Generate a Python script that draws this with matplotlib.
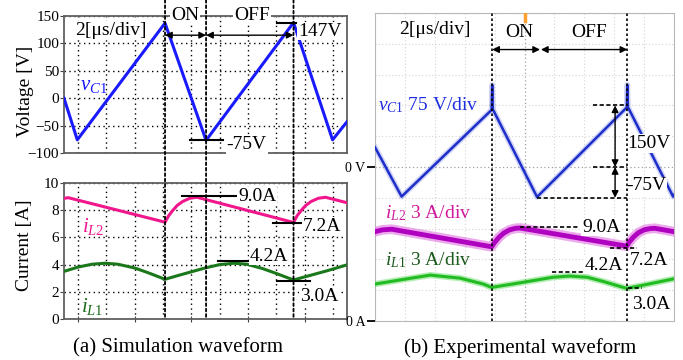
import numpy as np
import matplotlib
matplotlib.use('Agg')
import matplotlib.pyplot as plt
from matplotlib.patches import ConnectionPatch

# Times-like look
plt.rcParams['font.family'] = ['Liberation Serif', 'DejaVu Serif']
plt.rcParams['mathtext.fontset'] = 'custom'
plt.rcParams['mathtext.rm'] = 'Liberation Serif'
plt.rcParams['mathtext.it'] = 'Liberation Serif:italic'

# ---- simulation waveform (time in us) ----
sim_t_v = [0, 0.94, 7.14, 10.04, 16.22, 18.98, 20]
sim_vc1 = [0, -76, 137, -77, 138, -76, -43]

sim_t_il2 = [0, 0.3, 7.14, 7.4, 7.7, 8.0, 8.4, 8.9, 9.4,
             16.22, 16.48, 16.78, 17.08, 17.48, 17.98, 18.48, 20]
sim_il2 = [8.87, 8.92, 7.12, 7.6, 8.0, 8.35, 8.65, 8.88, 8.95,
           7.1, 7.6, 8.0, 8.35, 8.65, 8.88, 8.95, 8.55]

sim_t_il1 = [0, 1.0, 2.0, 2.9, 3.8, 5.0, 6.0, 7.14, 8.0, 9.0, 10.0,
             11.0, 12.0, 12.9, 14.0, 15.0, 16.22, 17.2, 18.6, 20]
sim_il1 = [3.5, 3.82, 4.03, 4.1, 4.03, 3.75, 3.38, 2.92, 3.18, 3.47, 3.76,
           4.0, 4.1, 4.03, 3.72, 3.35, 2.87, 3.15, 3.55, 3.98]

sim_switch = [7.14, 10.04, 16.22]

# ---- experimental waveform (scope, 2 us/div, 75 V/div, 3 A/div) ----
scope_t_v = [0, 1.78, 7.80, 7.84, 7.88, 7.96, 10.84, 16.84, 16.88, 16.92, 17.0, 19.94, 20]
scope_vc1 = [48, -72, 139, 200, 140, 135, -73, 145, 200, 145, 140, -72, -68]

scope_t_il2 = [0, 0.5, 1.12, 7.8, 8.0, 8.3, 8.6, 9.0, 9.4, 9.7,
               16.84, 17.0, 17.3, 17.6, 18.0, 18.4, 18.72, 20]
scope_il2 = [8.7, 8.88, 8.94, 7.23, 7.65, 8.16, 8.55, 8.88, 9.03, 9.06,
             7.29, 7.68, 8.19, 8.58, 8.88, 9.0, 9.03, 8.7]

scope_t_il1 = [0, 1.9, 3.7, 5.7, 7.24, 7.8, 9.7, 11.9, 13.0, 14.2, 15.3, 16.4, 16.84, 17.7, 20]
scope_il1 = [3.6, 4.05, 4.47, 4.17, 3.6, 3.27, 3.72, 4.26, 4.38, 4.26, 3.84, 3.36, 3.18, 3.42, 4.11]

scope_on = (7.84, 11.04)
scope_off = (11.1, 16.88)

W, H = 683, 360


def box(x0, y0, x1, y1):
    return [x0 / W, 1 - y1 / H, (x1 - x0) / W, (y1 - y0) / H]


fig = plt.figure(figsize=(W / 100, H / 100), dpi=100)
ax_v = fig.add_axes(box(64, 16, 347, 153))
ax_i = fig.add_axes(box(64, 183, 347, 319))
ax_s = fig.add_axes(box(375, 13, 674, 321))

white = dict(facecolor='white', edgecolor='none', pad=0.6)
dots = (0, (1, 2.5))


def style_sim(ax, ylim, yticks):
    ax.set_xlim(0, 20)
    ax.set_ylim(*ylim)
    ax.set_yticks(yticks)
    ax.set_xticks([1, 5, 9, 13, 17])
    ax.set_xticks([3, 7, 11, 15, 19], minor=True)
    ax.set_xticklabels([])
    ax.grid(True, which='both', axis='x', color='k', linestyle=dots, linewidth=1)
    ax.grid(True, which='major', axis='y', color='k', linestyle=dots, linewidth=1)
    ax.tick_params(axis='x', which='major', direction='inout', length=5, color='#444444')
    ax.tick_params(axis='x', which='minor', length=0)
    ax.tick_params(axis='y', direction='out', length=3, labelsize=11, pad=0.5, color='#444444')
    for s in ax.spines.values():
        s.set_color('#606060')
        s.set_linewidth(1.3)


# ---------------- (a) voltage ----------------
style_sim(ax_v, (-100, 150), [-100, -50, 0, 50, 100, 150])
ax_v.tick_params(axis='x', which='major', length=0)
ax_v.plot(sim_t_v, sim_vc1, color='#1a1aff', lw=2.2, zorder=3)

ax_v.text(3.3, 124, '2[\u03bcs/div]', fontsize=14, ha='center', va='center', bbox=white, zorder=4)
ax_v.text(8.56, 1.005, 'ON', fontsize=14, ha='center', va='center', bbox=white,
          transform=ax_v.get_xaxis_transform(), clip_on=False, zorder=6)
ax_v.text(13.28, 1.005, 'OFF', fontsize=14, ha='center', va='center', bbox=white,
          transform=ax_v.get_xaxis_transform(), clip_on=False, zorder=6)
arr = dict(arrowstyle='<|-|>', color='k', lw=1, mutation_scale=10, shrinkA=0, shrinkB=0)
ax_v.annotate('', xy=(sim_switch[0], 115), xytext=(sim_switch[1], 115), arrowprops=arr, zorder=5)
ax_v.annotate('', xy=(sim_switch[1], 115), xytext=(sim_switch[2], 115), arrowprops=arr, zorder=5)

vmax = max(sim_vc1)
ax_v.plot([sim_switch[2] - 1.2, sim_switch[2] + 0.28], [vmax, vmax], color='k', lw=1.5, zorder=4)
ax_v.text(16.55, 122.6, '147V', fontsize=14, ha='left', va='center', bbox=white, zorder=5)
vmin = sim_vc1[3]
ax_v.plot([sim_switch[1] - 1.14, sim_switch[1] + 1.2], [vmin, vmin], color='k', lw=1.5, zorder=4)
ax_v.text(11.5, -85, '-75V', fontsize=14, ha='left', va='center', bbox=white, zorder=5)
ax_v.text(2.1, 24, r'$v_{C1}$', fontsize=15, color='#1a1aff', ha='center', va='center')

# ---------------- (a) current ----------------
style_sim(ax_i, (0, 10), [0, 2, 4, 6, 8, 10])
ax_i.plot(sim_t_il2, sim_il2, color='#f0168c', lw=2.2, zorder=3)
ax_i.plot(sim_t_il1, sim_il1, color='#1a781a', lw=2.2, zorder=3)

ax_i.plot([8.34, 12.22], [9.04, 9.04], color='k', lw=1.5, zorder=4)
ax_i.text(12.3, 8.99, '9.0A', fontsize=14, ha='left', va='center', bbox=white, zorder=5)
ax_i.plot([14.78, 16.9], [7.08, 7.08], color='k', lw=1.5, zorder=4)
ax_i.text(16.9, 6.79, '7.2A', fontsize=14, ha='left', va='center', bbox=white, zorder=5)
ax_i.plot([10.88, 13.28], [4.29, 4.29], color='k', lw=1.5, zorder=4)
ax_i.text(13.14, 4.63, '4.2A', fontsize=14, ha='left', va='center', bbox=white, zorder=5)
ax_i.plot([15.06, 17.38], [2.79, 2.79], color='k', lw=1.5, zorder=4)
ax_i.text(16.68, 1.64, '3.0A', fontsize=14, ha='left', va='center', bbox=white, zorder=5)
ax_i.text(2.05, 6.79, r'$i_{L2}$', fontsize=15, color='#f0168c', ha='center', va='center')
ax_i.text(1.98, 0.9, r'$i_{L1}$', fontsize=15, color='#1a6e1a', ha='center', va='center')

fig.text(25 / W, 1 - 91 / H, 'Voltage [V]', rotation=90, fontsize=14, ha='center', va='center')
fig.text(25 / W, 1 - 245 / H, 'Current [A]', rotation=90, fontsize=14, ha='center', va='center')

# switching instants run through both simulation plots
for t in sim_switch:
    cp = ConnectionPatch(xyA=(t, 1.117), coordsA=ax_v.get_xaxis_transform(),
                         xyB=(t, 0), coordsB=ax_i.get_xaxis_transform(),
                         color='k', linestyle=(0, (1.5, 1.5)), lw=1.3, zorder=10)
    fig.add_artist(cp)

# ---------------- (b) scope ----------------
ax_s.set_xlim(0, 20)
ax_s.set_ylim(-375, 375)
ax_s.set_xticks([10])
ax_s.set_xticks(np.arange(0, 21, 2), minor=True)
ax_s.set_yticks([0])
ax_s.set_yticklabels(['0 V'])
ax_s.set_yticks(np.arange(-375, 376, 75), minor=True)
ax_s.grid(True, which='minor', color='#d4d4d4', linestyle=(0, (1, 2)), lw=0.8)
ax_s.grid(True, which='major', color='#a0a0a0', linestyle=(0, (1, 2)), lw=0.9)
ax_s.tick_params(axis='x', which='both', length=0, labelbottom=False)
ax_s.tick_params(axis='y', which='minor', length=0)
ax_s.tick_params(axis='y', which='major', length=6, width=1.3, color='k', labelsize=10, pad=1)
for s in ax_s.spines.values():
    s.set_color('#b8b8b8')
    s.set_linewidth(0.8)

ax_c = ax_s.twinx()
ax_c.set_xlim(0, 20)
ax_c.set_ylim(0, 30)
ax_c.yaxis.set_ticks_position('left')
ax_c.set_yticks([0])
ax_c.set_yticklabels(['0 A'])
ax_c.tick_params(axis='y', length=6, width=1.3, color='k', labelsize=10, pad=1,
                 left=True, right=False, labelleft=True, labelright=False)
for s in ax_c.spines.values():
    s.set_visible(False)

# traces with a soft halo like a scope capture
ax_s.plot(scope_t_v, scope_vc1, color='#4050e0', lw=4.0, alpha=0.25, zorder=2)
ax_s.plot(scope_t_v, scope_vc1, color='#1e2ec8', lw=1.8, zorder=3)
ax_c.plot(scope_t_il2, scope_il2, color='#e070e0', lw=7, alpha=0.6, zorder=2)
ax_c.plot(scope_t_il2, scope_il2, color='#b000c0', lw=3.5, zorder=3)
ax_c.plot(scope_t_il1, scope_il1, color='#66dd66', lw=4.5, alpha=0.5, zorder=2)
ax_c.plot(scope_t_il1, scope_il1, color='#22bb22', lw=2.2, zorder=3)

for t in (scope_on[0], scope_off[1]):
    ax_c.axvline(t, color='k', linestyle=(0, (1.5, 1.5)), lw=1.2, zorder=5)
ax_c.axvline(10, ymin=0.975, ymax=1, color='#ffa030', lw=2.5, zorder=6)

# voltage annotations
ax_s.text(4.0, 334, '2[\u03bcs/div]', fontsize=14, ha='center', va='center')
ax_s.text(9.64, 328, 'ON', fontsize=14, ha='center', va='center')
ax_s.text(14.32, 328, 'OFF', fontsize=14, ha='center', va='center')
ax_s.annotate('', xy=(scope_on[0], 286), xytext=(scope_on[1], 286), arrowprops=arr)
ax_s.annotate('', xy=(scope_off[0], 286), xytext=(scope_off[1], 286), arrowprops=arr)
ax_s.text(0.2, 151, r'$v_{C1}$ 75 V/div', fontsize=14, color='#1e2ee0', ha='left', va='center')

dash = (0, (2.5, 1.5))
ax_s.plot([14.58, 16.86], [150, 150], color='k', linestyle=dash, lw=1.2, zorder=4)
ax_s.plot([14.58, 16.86], [0, 0], color='k', linestyle=dash, lw=1.2, zorder=4)
ax_s.plot([10.84, 16.86], [-75, -75], color='k', linestyle=dash, lw=1.2, zorder=4)
ax_s.annotate('', xy=(16.06, 150), xytext=(16.06, 0), arrowprops=arr)
ax_s.annotate('', xy=(16.06, 0), xytext=(16.06, -75), arrowprops=arr)
ax_s.text(16.86, 57, '150V', fontsize=14, ha='left', va='center', bbox=white, zorder=5)
ax_s.text(16.8, -46, '-75V', fontsize=14, ha='left', va='center', bbox=white, zorder=5)

# current annotations
ax_c.text(0.66, 10.5, r'$i_{L2}$ 3 A/div', fontsize=14, color='#d0189c', ha='left', va='center')
ax_c.text(0.66, 5.94, r'$i_{L1}$ 3 A/div', fontsize=14, color='#1a5a1a', ha='left', va='center')
ax_c.plot([9.7, 13.58], [9.15, 9.15], color='k', linestyle=dash, lw=1.2, zorder=4)
ax_c.text(13.84, 9.15, '9.0A', fontsize=14, ha='left', va='center', bbox=white, zorder=5)
ax_c.plot([15.72, 17.52], [7.14, 7.14], color='k', linestyle=dash, lw=1.2, zorder=4)
ax_c.text(17.06, 5.94, '7.2A', fontsize=14, ha='left', va='center', bbox=white, zorder=5)
ax_c.plot([11.82, 14.0], [4.8, 4.8], color='k', linestyle=dash, lw=1.2, zorder=4)
ax_c.text(14.04, 5.45, '4.2A', fontsize=14, ha='left', va='center', bbox=white, zorder=5)
ax_c.plot([16.92, 17.86], [3.18, 3.18], color='k', linestyle=dash, lw=1.2, zorder=4)
ax_c.text(17.2, 1.56, '3.0A', fontsize=14, ha='left', va='center', bbox=white, zorder=5)

# captions
fig.text(178 / W, 1 - 348 / H, '(a) Simulation waveform', fontsize=15, ha='center', va='center')
fig.text(520 / W, 1 - 348 / H, '(b) Experimental waveform', fontsize=15, ha='center', va='center')

fig.savefig('out.png', dpi=100)
